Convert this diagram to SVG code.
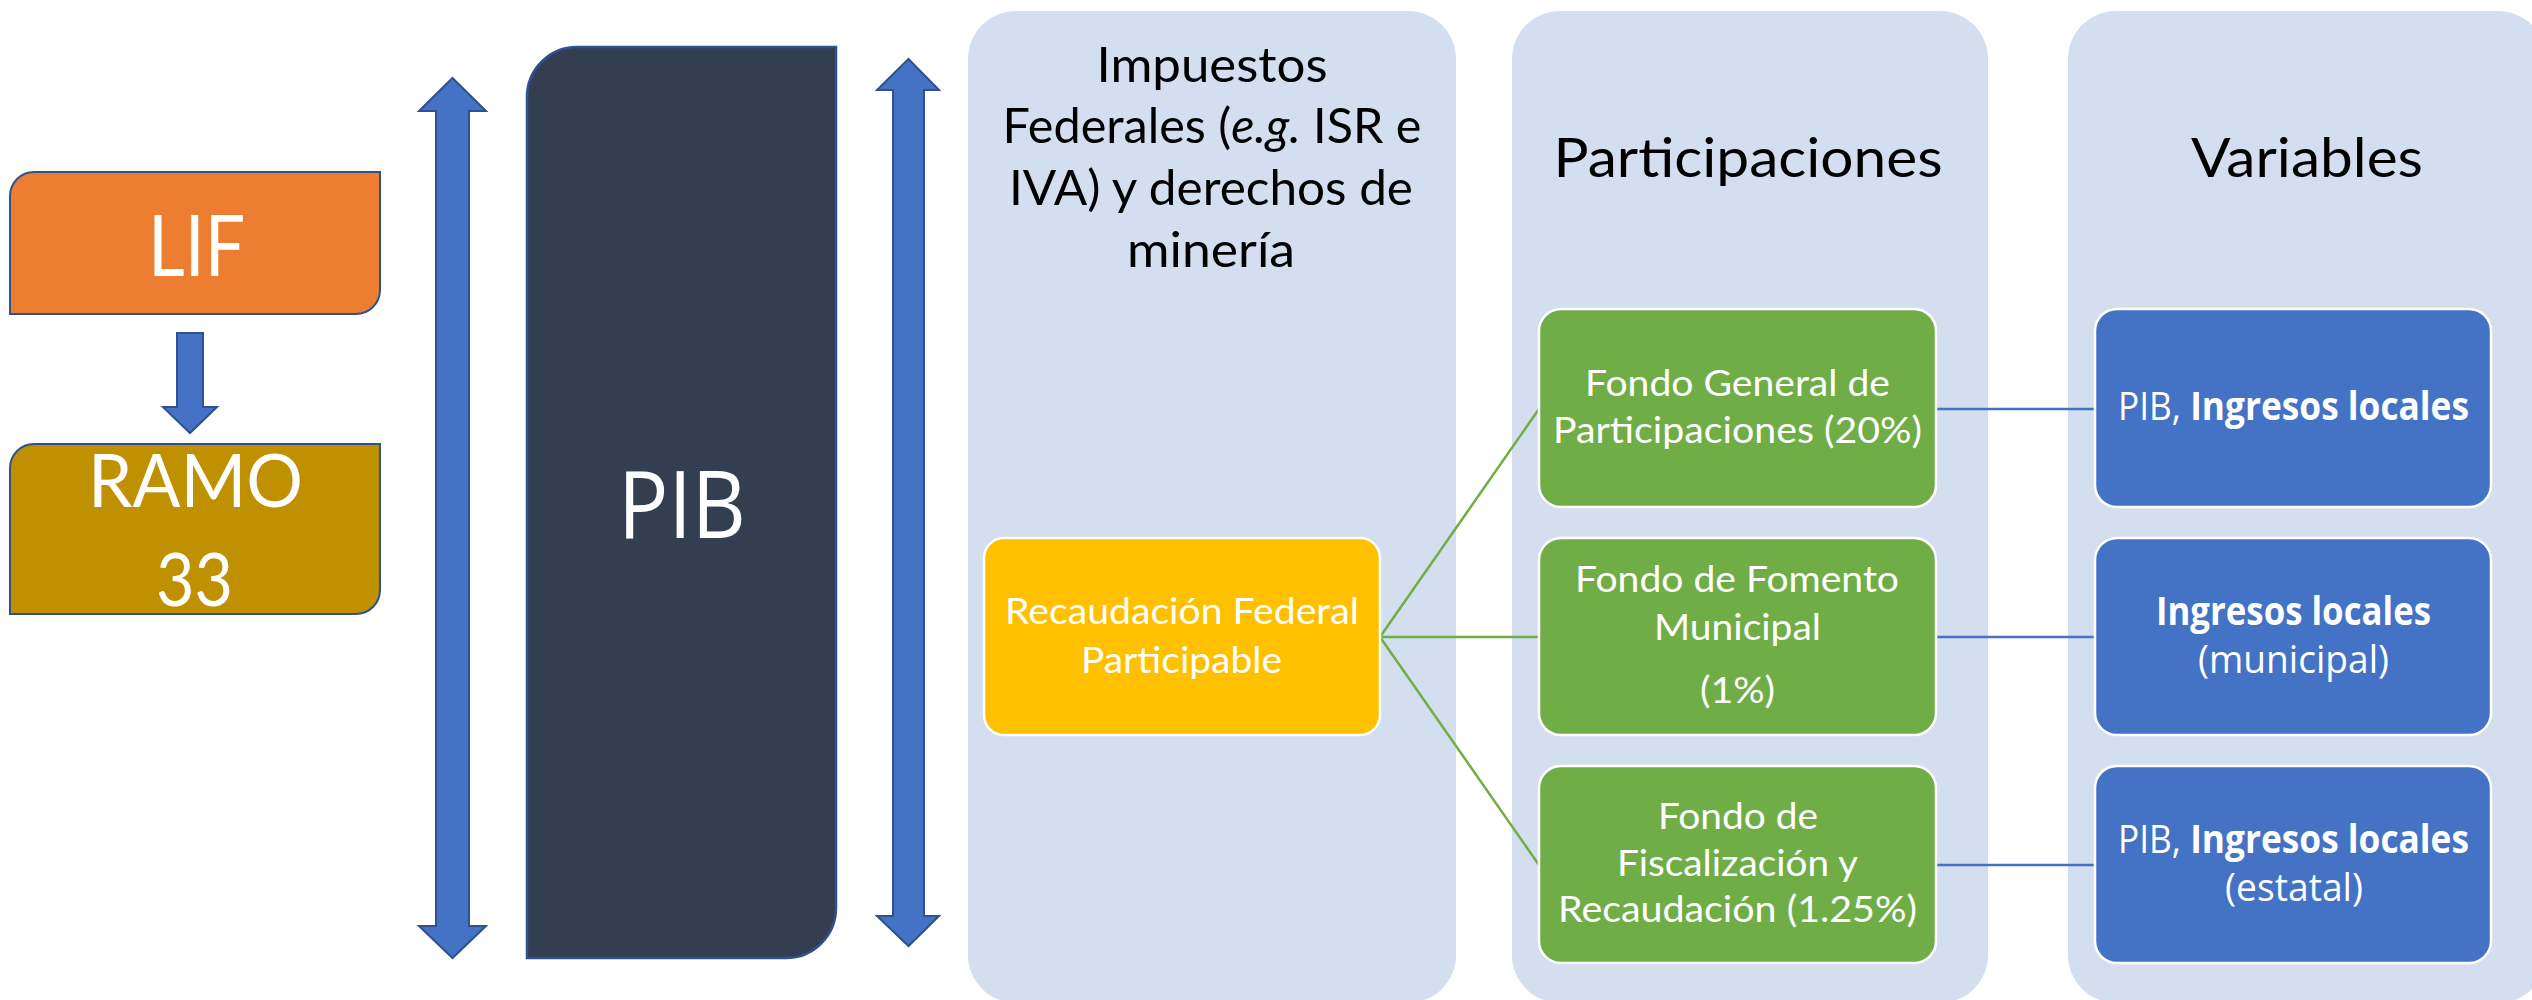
<svg xmlns="http://www.w3.org/2000/svg" width="2532" height="1000" viewBox="0 0 2532 1000">
<style>
.panel{fill:#D3DEEF;}
.arrow{fill:#4472C4;stroke:#2F528F;stroke-width:2;}
.edge{fill:none;stroke-width:2.5;}
.g{stroke:#70AD47;}
.b{stroke:#4472C4;}
.cal{font-family:Lato,'Liberation Sans',sans-serif;}
.seg{font-family:'Open Sans','Noto Sans',sans-serif;}
.w{fill:#FFFFFF;}
.k{fill:#000000;}
.card{stroke:#FFFFFF;stroke-width:2.5;}
</style>
<rect width="2532" height="1000" fill="#FFFFFF"/>

<g id="panel-impuestos">
<rect class="panel" x="968" y="11" width="488" height="992" rx="48" ry="48"/>
<g class="cal k" font-size="49" text-anchor="middle">
<text x="1212" y="82" textLength="231" lengthAdjust="spacingAndGlyphs">Impuestos</text>
<text x="1212" y="143" textLength="419" lengthAdjust="spacingAndGlyphs">Federales (<tspan font-style="italic">e.g.</tspan> ISR e</text>
<text x="1211" y="205" textLength="404" lengthAdjust="spacingAndGlyphs">IVA) y derechos de</text>
<text x="1211" y="267" textLength="168" lengthAdjust="spacingAndGlyphs">minería</text>
</g>
</g>

<g id="panel-participaciones">
<rect class="panel" x="1512" y="11" width="476" height="992" rx="48" ry="48"/>
<text class="cal k" x="1748" y="177" font-size="54" text-anchor="middle" textLength="389" lengthAdjust="spacingAndGlyphs">Participaciones</text>
</g>

<g id="panel-variables">
<rect class="panel" x="2068" y="11" width="478" height="992" rx="48" ry="48"/>
<text class="cal k" x="2307" y="177" font-size="54" text-anchor="middle" textLength="232" lengthAdjust="spacingAndGlyphs">Variables</text>
</g>

<g id="lif">
<path d="M34 172H380V290A24 24 0 0 1 356 314H10V196A24 24 0 0 1 34 172Z" fill="#ED7D31" stroke="#2F528F" stroke-width="2"/>
<text class="cal w" x="196.5" y="276" font-size="85" text-anchor="middle" textLength="97" lengthAdjust="spacingAndGlyphs">LIF</text>
</g>

<g id="ramo33">
<path d="M34 444H380V590A24 24 0 0 1 356 614H10V468A24 24 0 0 1 34 444Z" fill="#BF9000" stroke="#2F528F" stroke-width="2"/>
<text class="cal w" x="195.5" y="507" font-size="74" text-anchor="middle" textLength="215" lengthAdjust="spacingAndGlyphs">RAMO</text>
<text class="cal w" x="194.5" y="606" font-size="74" text-anchor="middle" textLength="77" lengthAdjust="spacingAndGlyphs">33</text>
</g>

<g id="pib">
<path d="M577 47H836V908A50 50 0 0 1 786 958H527V97A50 50 0 0 1 577 47Z" fill="#333F50" stroke="#2F528F" stroke-width="2.5"/>
<text class="seg w" x="682" y="538" font-size="94" text-anchor="middle" textLength="128" lengthAdjust="spacingAndGlyphs">PIB</text>
</g>

<g id="arrow-left">
<polygon class="arrow" points="452.5,78 486,111 469,111 469,926 486,926 452.5,958 419,926 436,926 436,111 419,111"/>
</g>
<g id="arrow-right">
<polygon class="arrow" points="908.5,59 939,90 924,90 924,916 939,916 908.5,946 877,916 893,916 893,90 877,90"/>
</g>

<g id="connectors">
<polygon class="arrow" points="177,333 203,333 203,407 217,407 190,433 163,407 177,407"/>
<line class="edge g" x1="1380" y1="637" x2="1539" y2="409"/>
<line class="edge g" x1="1380" y1="637" x2="1539" y2="637"/>
<line class="edge g" x1="1380" y1="637" x2="1539" y2="865"/>
<line class="edge b" x1="1936" y1="409" x2="2095" y2="409"/>
<line class="edge b" x1="1936" y1="637" x2="2095" y2="637"/>
<line class="edge b" x1="1936" y1="865" x2="2095" y2="865"/>
</g>

<g id="recaudacion">
<rect class="card" x="984" y="538" width="396" height="197" rx="20" ry="20" fill="#FFC000"/>
<g class="cal w" font-size="36" text-anchor="middle">
<text x="1182" y="624" textLength="354" lengthAdjust="spacingAndGlyphs">Recaudación Federal</text>
<text x="1181.5" y="673" textLength="201" lengthAdjust="spacingAndGlyphs">Participable</text>
</g>
</g>

<g id="fgp">
<rect class="card" x="1539" y="309" width="397" height="198" rx="22" ry="22" fill="#70AD47"/>
<g class="cal w" font-size="36" text-anchor="middle">
<text x="1737.5" y="396" textLength="305" lengthAdjust="spacingAndGlyphs">Fondo General de</text>
<text x="1737.5" y="443" textLength="369" lengthAdjust="spacingAndGlyphs">Participaciones (20%)</text>
</g>
</g>

<g id="ffm">
<rect class="card" x="1539" y="538" width="397" height="197" rx="22" ry="22" fill="#70AD47"/>
<g class="cal w" font-size="36" text-anchor="middle">
<text x="1737" y="592" textLength="324" lengthAdjust="spacingAndGlyphs">Fondo de Fomento</text>
<text x="1737.5" y="640" textLength="167" lengthAdjust="spacingAndGlyphs">Municipal</text>
<text x="1737.5" y="703" textLength="75" lengthAdjust="spacingAndGlyphs">(1%)</text>
</g>
</g>

<g id="ffr">
<rect class="card" x="1539" y="766" width="397" height="197" rx="22" ry="22" fill="#70AD47"/>
<g class="cal w" font-size="36" text-anchor="middle">
<text x="1738" y="829" textLength="160" lengthAdjust="spacingAndGlyphs">Fondo de</text>
<text x="1737.5" y="876" textLength="241" lengthAdjust="spacingAndGlyphs">Fiscalización y</text>
<text x="1737.5" y="922" textLength="359" lengthAdjust="spacingAndGlyphs">Recaudación (1.25%)</text>
</g>
</g>

<g id="var1">
<rect class="card" x="2095" y="309" width="396" height="198" rx="22" ry="22" fill="#4472C4"/>
<text class="seg w" x="2293.5" y="419.5" font-size="39" text-anchor="middle" textLength="351" lengthAdjust="spacingAndGlyphs">PIB, <tspan font-weight="bold">Ingresos locales</tspan></text>
</g>

<g id="var2">
<rect class="card" x="2095" y="538" width="396" height="197" rx="22" ry="22" fill="#4472C4"/>
<g class="seg w" font-size="39" text-anchor="middle">
<text x="2293.5" y="625" font-weight="bold" textLength="275" lengthAdjust="spacingAndGlyphs">Ingresos locales</text>
<text x="2293.5" y="673" textLength="191" lengthAdjust="spacingAndGlyphs">(municipal)</text>
</g>
</g>

<g id="var3">
<rect class="card" x="2095" y="766" width="396" height="197" rx="22" ry="22" fill="#4472C4"/>
<g class="seg w" font-size="39" text-anchor="middle">
<text x="2293.5" y="853" textLength="351" lengthAdjust="spacingAndGlyphs">PIB, <tspan font-weight="bold">Ingresos locales</tspan></text>
<text x="2294" y="901" textLength="138" lengthAdjust="spacingAndGlyphs">(estatal)</text>
</g>
</g>
</svg>
